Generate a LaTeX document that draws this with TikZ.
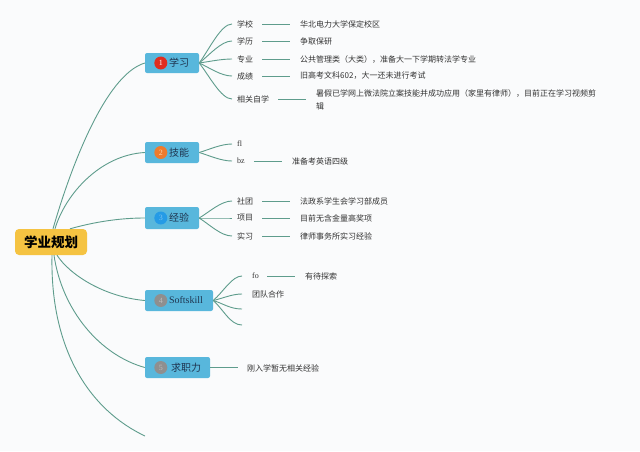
\documentclass[tikz,border=0pt]{standalone}
\usepackage{fontspec}
\setmainfont{Noto Sans CJK SC}
\newfontfamily\latinserif{Liberation Serif}
\definecolor{bgc}{HTML}{FAFBFC}
\definecolor{boxblue}{HTML}{58B7DC}
\definecolor{rootc}{HTML}{F5C342}
\definecolor{edge}{HTML}{5E9C8C}
\definecolor{textdark}{HTML}{333333}
\definecolor{navy}{HTML}{1F3550}
\definecolor{bred}{HTML}{E02E1F}
\definecolor{borange}{HTML}{EE7B2D}
\definecolor{bblue}{HTML}{259BE6}
\definecolor{bgray}{HTML}{8F8F8F}
\tikzset{
  rootbox/.style={fill=rootc, rounded corners=4pt, minimum width=72pt, minimum height=26pt, inner sep=0, font=\fontsize{13.5}{14}\selectfont\bfseries},
  branchbox/.style={fill=boxblue, rounded corners=2pt, minimum height=21pt, inner sep=0},
  btext/.style={anchor=west, inner sep=0, text=navy, font=\fontsize{10}{11}\selectfont},
  badge/.style={circle, fill=#1, minimum size=13pt, inner sep=0, font=\fontsize{8}{8}\selectfont\latinserif},
  lbl/.style={anchor=west, inner sep=0, text=textdark, font=\fontsize{8}{13}\selectfont},
  conn/.style={draw=edge, line width=0.9pt},
  hline/.style={draw=edge, line width=0.9pt, shorten <=9pt, shorten >=10pt}
}
\begin{document}
\begin{tikzpicture}[x=1pt,y=-1pt]
\fill[bgc] (0,0) rectangle (640,451);
\useasboundingbox (0,0) rectangle (640,451);

% root
\node[rootbox] (root) at (51,242) {学业规划};

% branches
\node[branchbox, minimum width=54pt, minimum height=20pt] (b1) at (172,63) {};
\node[badge=bred, text=white] (n1) at ([xshift=16pt]b1.west) {1};
\node[btext] (t1) at ([xshift=24pt]b1.west) {学习};

\node[branchbox, minimum width=54pt] (b2) at (172,152.5) {};
\node[badge=borange, text=orange!35] (n2) at ([xshift=16pt]b2.west) {2};
\node[btext] (t2) at ([xshift=24pt]b2.west) {技能};

\node[branchbox, minimum width=54pt, minimum height=22pt] (b3) at (172,218) {};
\node[badge=bblue, text=bblue!60!white] (n3) at ([xshift=16pt]b3.west) {3};
\node[btext] (t3) at ([xshift=24pt]b3.west) {经验};

\node[branchbox, minimum width=68pt] (b4) at (179,300.5) {};
\node[badge=bgray, text=bgray!60!white] (n4) at ([xshift=16pt]b4.west) {4};
\node[btext, font=\fontsize{10}{11}\selectfont\latinserif] (t4) at ([xshift=24pt]b4.west) {Softskill};

\node[branchbox, minimum width=65pt] (b5) at (177.5,367.5) {};
\node[badge=bgray, text=bgray!60!white] (n5) at ([xshift=16pt]b5.west) {5};
\node[btext] (t5) at ([xshift=26pt]b5.west) {求职力};

\coordinate (tail) at (145,436);

% root connectors
\draw[conn] ([xshift=2pt]root.north) .. controls +(17,-59) and +(-40,12) .. (b1.west);
\draw[conn] ([xshift=4pt]root.north) .. controls +(10,-34) and +(-45,2.5) .. (b2.west);
\draw[conn] ([xshift=19pt]root.north) .. controls +(25,-7) and +(-25,0) .. (b3.west);
\draw[conn] ([xshift=6pt]root.south) .. controls +(13,20) and +(-40,-3.5) .. (b4.west);
\draw[conn] ([xshift=3pt]root.south) .. controls +(8,55) and +(-45,-12.5) .. (b5.west);
\draw[conn] ([xshift=1pt]root.south) .. controls +(-2,95) and +(-55,-26) .. (tail);

% 学习 children
\node[lbl] (c11) at (237,24) {学校};
\node[lbl] (c12) at (237,41) {学历};
\node[lbl] (c13) at (237,59) {专业};
\node[lbl] (c14) at (237,76) {成绩};
\node[lbl] (c15) at (237,99) {相关自学};
\node[lbl] (v11) at (300,24) {华北电力大学保定校区};
\node[lbl] (v12) at (300,41) {争取保研};
\node[lbl] (v13) at (300,59) {公共管理类（大类），准备大一下学期转法学专业};
\node[lbl] (v14) at (300,76) {旧高考文科602，大一还未进行考试};
\node[lbl, align=left] (v15) at (316,99.5) {暑假已学网上微法院立案技能并成功应用（家里有律师），目前正在学习视频剪\\辑};
\foreach \c/\d in {c11/-39,c12/-22,c13/-4,c14/13,c15/36}
  \draw[conn, shorten >=5pt] (b1.east) .. controls +(10,0.35*\d) and +(-16,0) .. (\c.west);
\foreach \c/\v in {c11/v11,c12/v12,c13/v13,c14/v14,c15/v15}
  \draw[hline] (\c.east) -- (\v.west |- \c.east);

% 技能 children
\node[lbl, font=\fontsize{8}{9}\selectfont\latinserif] (c21) at (237,144) {fl};
\node[lbl, font=\fontsize{8}{9}\selectfont\latinserif] (c22) at (237,161) {bz};
\node[lbl] (v22) at (292,161) {准备考英语四级};
\foreach \c/\d in {c21/-8.5,c22/8.5}
  \draw[conn, shorten >=5pt] (b2.east) .. controls +(10,0.35*\d) and +(-16,0) .. (\c.west);
\draw[hline] (c22.east) -- (v22.west |- c22.east);

% 经验 children
\node[lbl] (c31) at (237,201) {社团};
\node[lbl] (c32) at (237,218) {项目};
\node[lbl] (c33) at (237,236) {实习};
\node[lbl] (v31) at (300,201) {法政系学生会学习部成员};
\node[lbl] (v32) at (300,218) {目前无含金量高奖项};
\node[lbl] (v33) at (300,236) {律师事务所实习经验};
\foreach \c/\d in {c31/-17,c32/0,c33/18}
  \draw[conn, shorten >=5pt] (b3.east) .. controls +(10,0.35*\d) and +(-16,0) .. (\c.west);
\foreach \c/\v in {c31/v31,c32/v32,c33/v33}
  \draw[hline] (\c.east) -- (\v.west |- \c.east);

% Softskill children
\node[lbl, font=\fontsize{8}{9}\selectfont\latinserif] (c41) at (252,276) {fo};
\node[lbl] (c42) at (252,294) {团队合作};
\coordinate (c43) at (242,309);
\coordinate (c44) at (242,325);
\node[lbl] (v41) at (305,276) {有待探索};
\draw[conn, shorten >=10pt] (b4.east) .. controls +(10,-8.5) and +(-20,0) .. (c41.west);
\draw[conn, shorten >=10pt] (b4.east) .. controls +(10,-2.3) and +(-20,0) .. (c42.west);
\draw[conn] (b4.east) .. controls +(10,3) and +(-12,0) .. (c43);
\draw[conn] (b4.east) .. controls +(10,8.5) and +(-12,0) .. (c44);
\draw[hline, shorten <=8pt] (c41.east) -- (v41.west |- c41.east);

% 求职力 child
\node[lbl] (v51) at (247,368) {刚入学暂无相关经验};
\draw[hline, shorten <=0pt, shorten >=9pt] (b5.east) -- (v51.west |- b5.east);
\end{tikzpicture}
\end{document}
